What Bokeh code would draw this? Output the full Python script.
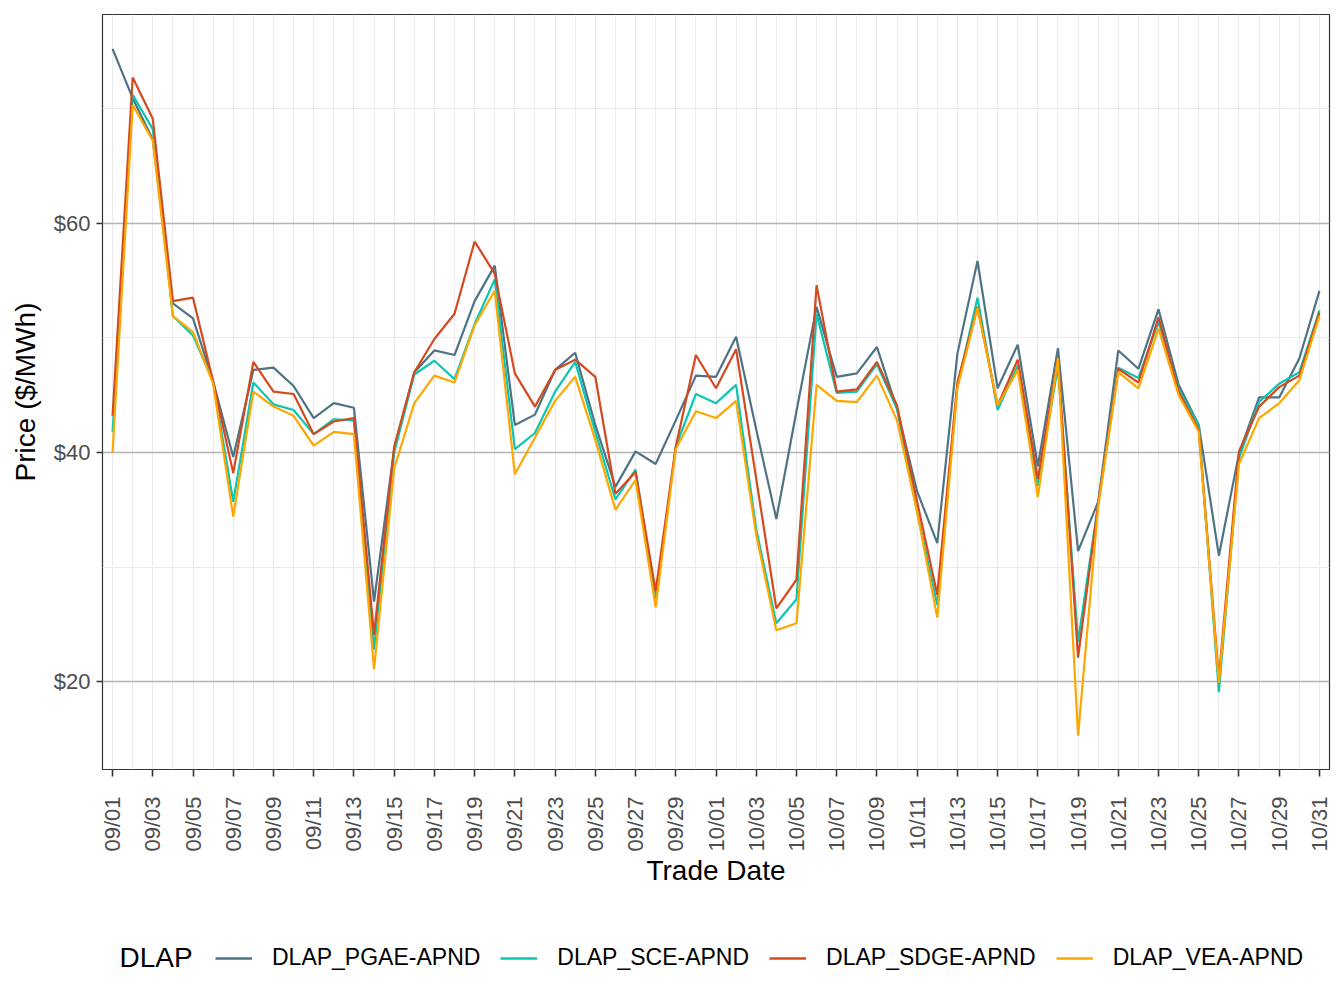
import pandas as pd
from bokeh.plotting import figure
from bokeh.layouts import column
from bokeh.models import (FixedTicker, DatetimeTickFormatter, NumeralTickFormatter,
                          Range1d, Legend, LegendItem, Label)
from bokeh.embed import file_html
from bokeh.resources import INLINE

# ---------------- data ----------------
start_date = "2023-09-01"
end_date = "2023-10-31"
dates = list(pd.date_range(start_date, end_date, freq="D"))

series_names = ["DLAP_PGAE-APND", "DLAP_SCE-APND", "DLAP_SDGE-APND", "DLAP_VEA-APND"]
series_colors = ["#4E7385", "#0CC5B2", "#D4491F", "#FFA600"]

pgae = [75.2, 70.9, 67.3, 53.0, 51.7, 46.2, 39.6, 47.2, 47.4, 45.8,
        43.0, 44.3, 43.9, 27.0, 40.3, 47.0, 48.9, 48.5, 53.2, 56.3,
        42.4, 43.3, 47.2, 48.7, 42.4, 37.0, 40.1, 39.0, 42.8, 46.7,
        46.6, 50.1, 42.0, 34.2, 43.6, 52.7, 46.6, 46.9, 49.2, 43.8,
        36.6, 32.1, 48.6, 56.7, 45.6, 49.4, 38.8, 49.1, 31.4, 35.7,
        48.9, 47.3, 52.5, 45.9, 42.4, 31.0, 39.9, 44.8, 44.8, 48.2,
        54.1]
sce = [41.8, 71.2, 68.2, 51.9, 50.2, 46.2, 35.7, 46.1, 44.2, 43.7,
       41.6, 42.9, 42.8, 22.8, 40.0, 46.8, 48.0, 46.4, 51.2, 55.1,
       40.3, 41.7, 45.3, 47.9, 41.8, 35.9, 38.5, 27.2, 40.5, 45.1,
       44.3, 45.9, 33.3, 25.1, 27.2, 52.1, 45.2, 45.3, 47.7, 43.8,
       34.8, 26.7, 45.8, 53.5, 43.7, 47.6, 37.1, 47.5, 23.5, 35.5,
       47.4, 46.5, 51.4, 45.5, 42.4, 19.1, 39.5, 44.4, 46.0, 47.0,
       52.4]
sdge = [43.2, 72.7, 69.1, 53.2, 53.5, 46.2, 38.2, 47.9, 45.3, 45.1,
        41.6, 42.7, 43.0, 24.1, 40.5, 47.0, 49.9, 52.1, 58.4, 55.6,
        46.9, 44.0, 47.2, 48.1, 46.6, 36.4, 38.3, 27.9, 40.5, 48.5,
        45.6, 49.0, 37.7, 26.4, 28.9, 54.6, 45.3, 45.5, 47.9, 44.1,
        35.7, 27.6, 46.1, 52.7, 44.1, 48.1, 37.7, 48.2, 22.1, 35.5,
        47.3, 46.1, 51.8, 45.3, 42.0, 20.3, 40.1, 44.0, 45.7, 46.7,
        52.2]
vea = [40.0, 70.3, 67.2, 51.9, 50.5, 46.0, 34.4, 45.3, 44.0, 43.2,
       40.6, 41.8, 41.6, 21.1, 38.6, 44.3, 46.7, 46.1, 51.1, 54.1,
       38.1, 41.3, 44.5, 46.6, 41.1, 35.0, 37.6, 26.5, 40.3, 43.6,
       43.0, 44.5, 32.8, 24.5, 25.1, 45.9, 44.5, 44.4, 46.7, 42.8,
       34.8, 25.6, 45.6, 52.6, 44.1, 47.2, 36.1, 48.2, 15.3, 35.3,
       47.0, 45.6, 50.8, 45.0, 41.8, 19.9, 39.0, 43.0, 44.3, 46.3,
       51.9]
all_series = [pgae, sce, sdge, vea]

legend_title = "DLAP"
y_ticks = [20, 40, 60]
y_minor_ticks = [30, 50, 70]

# ---------------- helpers ----------------
def ms(ts):
    return ts.value // 10**6

DAY = 86400000
x_ms = [ms(d) for d in dates]
major_ticks = x_ms[::2]
minor_ticks = x_ms[1::2]

BORDER_L, FRAME_W, BORDER_R = 102, 1227, 2
TOTAL_W = BORDER_L + FRAME_W + BORDER_R

# ---------------- main figure ----------------
p = figure(frame_width=FRAME_W, frame_height=755,
           x_axis_type="datetime",
           x_range=Range1d(x_ms[0] - DAY * 0.5, x_ms[-1] + DAY * 0.5),
           y_range=Range1d(12.35, 78.2),
           output_backend="svg", toolbar_location=None,
           min_border_left=BORDER_L, min_border_right=BORDER_R,
           min_border_top=14, min_border_bottom=130,
           background_fill_color="white", border_fill_color="white")

p.outline_line_color = "#333333"
p.outline_line_width = 1.2

for name, vals, col in zip(series_names, all_series, series_colors):
    p.line(x=dates, y=vals, line_color=col, line_width=2.2)

# axes
p.xaxis.ticker = FixedTicker(ticks=major_ticks, minor_ticks=minor_ticks)
p.xaxis.formatter = DatetimeTickFormatter(days="%m/%d", months="%m/%d")
p.xaxis.major_label_orientation = 1.5707963
p.yaxis.ticker = FixedTicker(ticks=y_ticks, minor_ticks=y_minor_ticks)
p.yaxis.formatter = NumeralTickFormatter(format="$0")

for ax in (p.xaxis[0], p.yaxis[0]):
    ax.axis_line_color = None
    ax.major_tick_line_color = "#333333"
    ax.major_tick_line_width = 1.6
    ax.major_tick_in = 0
    ax.minor_tick_in = 0
    ax.minor_tick_out = 0
    ax.major_label_text_font = "Liberation Sans"
    ax.major_label_text_font_size = "22px"
    ax.major_label_text_color = "#4D4D4D"
    ax.axis_label_text_font = "Liberation Sans"
    ax.axis_label_text_font_size = "28px"
    ax.axis_label_text_font_style = "normal"
    ax.axis_label_text_color = "black"

p.xaxis.axis_label = "Trade Date"
p.yaxis.axis_label = "Price ($/MWh)"
p.xaxis.major_tick_out = 7
p.xaxis.major_label_standoff = 20
p.xaxis.axis_label_standoff = 0
p.yaxis.major_tick_out = 6
p.yaxis.major_label_standoff = 6
p.yaxis.axis_label_standoff = 10

# grids
p.ygrid.ticker = FixedTicker(ticks=y_ticks, minor_ticks=y_minor_ticks)
p.ygrid.grid_line_color = "#B3B3B3"
p.ygrid.grid_line_width = 1.3
p.ygrid.minor_grid_line_color = "#EBEBEB"
p.ygrid.minor_grid_line_width = 1.0
p.xgrid.ticker = FixedTicker(ticks=major_ticks, minor_ticks=minor_ticks)
p.xgrid.grid_line_color = "#EBEBEB"
p.xgrid.grid_line_width = 1.2
p.xgrid.minor_grid_line_color = "#EBEBEB"
p.xgrid.minor_grid_line_width = 1.0

# ---------------- legend strip ----------------
# The strip's ranges lie far away from the data, so its lines only feed the legend keys.
LEG_H = 92
pl = figure(width=TOTAL_W, height=LEG_H, min_border=0,
            x_range=Range1d(0, 1), y_range=Range1d(0, 1),
            output_backend="svg", toolbar_location=None,
            background_fill_color="white", border_fill_color="white")
pl.axis.visible = False
pl.grid.visible = False
pl.outline_line_color = None

items = []
for name, vals, col in zip(series_names, all_series, series_colors):
    r = pl.line(x=x_ms, y=vals, line_color=col, line_width=2.6)
    items.append(LegendItem(label=name, renderers=[r]))

legend = Legend(items=items, orientation="horizontal", location=(113, 20),
                padding=0, margin=0, border_line_color=None, background_fill_alpha=0,
                glyph_width=37, glyph_height=20, label_standoff=20, spacing=20,
                label_text_font="Liberation Sans", label_text_font_size="23px",
                label_text_color="black")
pl.add_layout(legend)

title_lbl = Label(x=17, y=34, x_units="screen", y_units="screen", text=legend_title,
                  text_font="Liberation Sans", text_font_size="28px",
                  text_baseline="middle", text_align="left", text_color="black")
pl.add_layout(title_lbl)

layout = column(p, pl, spacing=0)
open("out.html", "w").write(file_html(layout, INLINE))
